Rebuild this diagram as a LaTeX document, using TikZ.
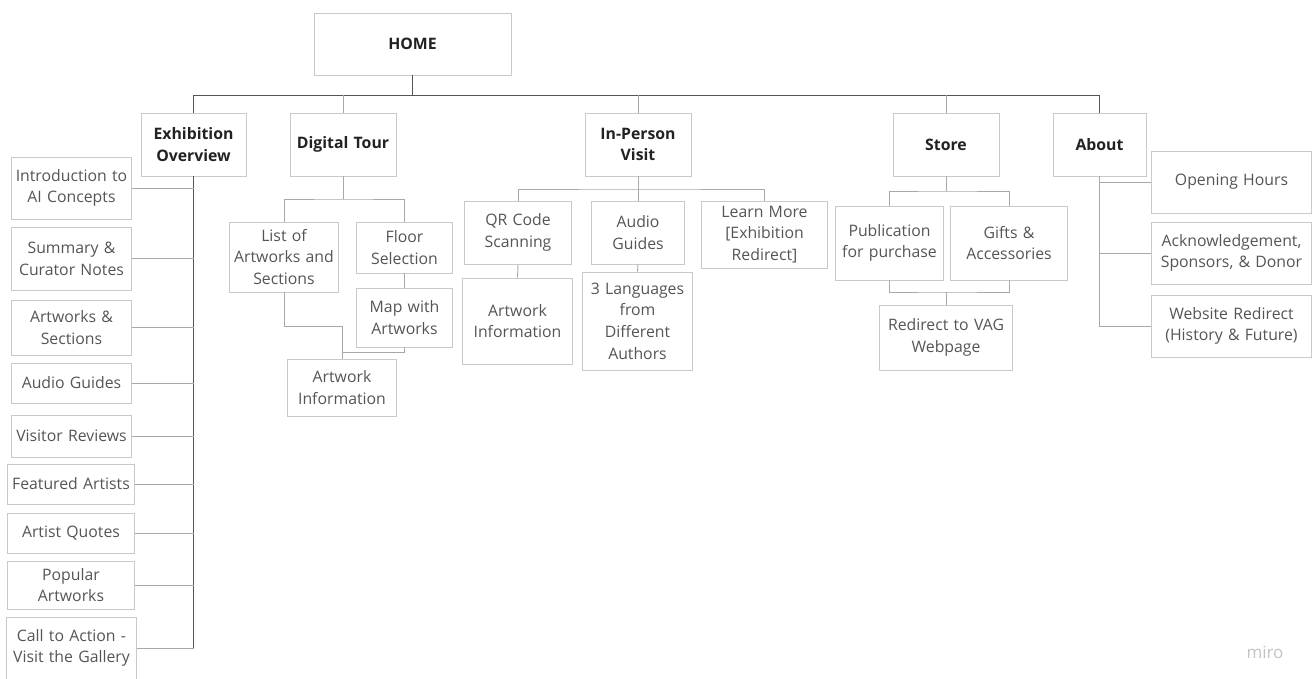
\documentclass[tikz,border=0pt]{standalone}
\usepackage{fontspec}
\setmainfont{Open Sans}
\definecolor{boxline}{HTML}{C9C9C9}
\definecolor{conline}{HTML}{A8A8A8}
\definecolor{darkline}{HTML}{555555}
\definecolor{childtext}{HTML}{555555}
\definecolor{headtext}{HTML}{222222}
\definecolor{mirogray}{HTML}{C4C4C4}
\tikzset{
  pbox/.style={draw=boxline, line width=0.9pt, fill=white, align=center, inner sep=1pt,
    text=childtext, font=\fontsize{15.8}{21.7}\selectfont},
  hbox/.style={pbox, text=headtext, font=\fontsize{15.8}{21.7}\selectfont\bfseries},
  conn/.style={draw=conline, line width=0.9pt},
  mainconn/.style={draw=darkline, line width=0.9pt},
}
\newcommand{\bx}[7]{\node[#1, minimum width=#4pt, minimum height=#5pt, text width=#6pt] (#2) at (#3) {#7};}
\begin{document}
\begin{tikzpicture}[x=1pt,y=-1pt]
\useasboundingbox[fill=white] (0,0) rectangle (1313,678);
% top level
\bx{hbox}{home}{412.5,44}{197}{62}{190}{HOME}
\bx{hbox}{exo}{193.5,144.5}{105}{63}{103}{Exhibition\\Overview}
\bx{hbox}{dt}{343,144.5}{106}{63}{104}{Digital Tour}
\bx{hbox}{ip}{638,144.5}{106}{63}{104}{In-Person\\Visit}
\bx{hbox}{st}{946,144.5}{106}{63}{104}{Store}
\bx{hbox}{ab}{1099.5,144.5}{93}{63}{91}{About}
% exhibition overview children
\bx{pbox}{intro}{71.5,188}{119}{62}{118}{Introduction to\\AI Concepts}
\bx{pbox}{summ}{71.5,258.5}{119}{63}{118}{Summary \&\\Curator Notes}
\bx{pbox}{arts}{71.5,327.5}{119}{55}{118}{Artworks \&\\Sections}
\bx{pbox}{audio}{71.5,383}{119}{40}{118}{Audio Guides}
\bx{pbox}{visit}{71.5,436}{119}{42}{118}{Visitor Reviews}
\bx{pbox}{feat}{71,484}{126}{40}{125}{Featured Artists}
\bx{pbox}{quot}{71,533}{126}{40}{125}{Artist Quotes}
\bx{pbox}{pop}{71,585}{126}{48}{125}{Popular\\Artworks}
\bx{pbox}{cta}{71.5,648}{129}{62}{128}{Call to Action -\\Visit the Gallery}
% digital tour children
\bx{pbox}{list}{284,257}{108}{70}{107}{List of\\Artworks and\\Sections}
\bx{pbox}{floor}{404.5,247.5}{95}{51}{94}{Floor\\Selection}
\bx{pbox}{map}{404.5,317.5}{95}{59}{94}{Map with\\Artworks}
\bx{pbox}{aione}{342,387.5}{108}{57}{107}{Artwork\\Information}
% in-person children
\bx{pbox}{qr}{518,232.5}{106}{63}{105}{QR Code\\Scanning}
\bx{pbox}{ag}{638,232.5}{92}{63}{91}{Audio\\Guides}
\bx{pbox}{lm}{764.5,234.5}{125}{67}{124}{Learn More\\{[}Exhibition\\Redirect{]}}
\bx{pbox}{aitwo}{517.5,321}{109}{86}{108}{Artwork\\Information}
\bx{pbox}{lang}{637.5,321}{109}{98}{108}{3 Languages\\from\\Different\\Authors}
% store children
\bx{pbox}{pub}{889.5,243}{107}{74}{106}{Publication\\for purchase}
\bx{pbox}{gift}{1009,243}{116}{74}{115}{Gifts \&\\Accessories}
\bx{pbox}{red}{946,337.5}{132}{65}{131}{Redirect to VAG\\Webpage}
% about children
\bx{pbox}{oh}{1231.5,182}{159}{62}{158}{Opening Hours}
\bx{pbox}{ack}{1231.5,253}{159}{62}{158}{Acknowledgement,\\Sponsors, \& Donor}
\bx{pbox}{web}{1231.5,326}{159}{62}{158}{Website Redirect\\(History \& Future)}
% watermark
\node[text=mirogray, font=\fontsize{17}{19}\selectfont] (miro) at (1265,652) {miro};
% connectors: home
\coordinate (hb) at (412.5,95);
\draw[mainconn] (home.south) -- (hb);
\draw[mainconn] (hb) -| (exo.north);
\draw[mainconn] (hb) -| (ab.north);
\draw[conn] (hb -| dt.north) -- (dt.north);
\draw[conn] (hb -| ip.north) -- (ip.north);
\draw[conn] (hb -| st.north) -- (st.north);
% exhibition overview
\draw[mainconn] (exo.south) -- (exo.south |- cta.east);
\foreach \c in {intro,summ,arts,audio,visit,feat,quot,pop,cta}{
  \draw[conn] (\c.east) -- (\c.east -| exo.south);
}
% digital tour
\coordinate (dtb) at (343,199);
\draw[conn] (dt.south) -- (dtb);
\draw[conn] (list.north) |- (dtb) -| (floor.north);
\draw[conn] (floor.south) -- (map.north);
\coordinate (jone) at (342,326);
\coordinate (jtwo) at (342,352);
\draw[conn] (list.south) |- (jone) -- (aione.north);
\draw[conn] (map.south) |- (jtwo);
% in-person
\coordinate (ipb) at (638,189);
\draw[conn] (ip.south) -- (ipb);
\draw[conn] (qr.north) |- (ipb) -| (lm.north);
\draw[conn] (ipb) -- (ag.north);
\draw[conn] (qr.south) -- (aitwo.north);
\draw[conn] (ag.south) -- (lang.north);
% store
\coordinate (sb) at (946,191);
\coordinate (sbb) at (946,292);
\draw[conn] (st.south) -- (sb);
\draw[conn] (pub.north) |- (sb) -| (gift.north);
\draw[conn] (pub.south) |- (sbb) -| (gift.south);
\draw[conn] (sbb) -- (red.north);
% about
\draw[conn] (ab.south) |- (oh.west);
\draw[conn] (ab.south) |- (ack.west);
\draw[conn] (ab.south) |- (web.west);
\end{tikzpicture}
\end{document}
